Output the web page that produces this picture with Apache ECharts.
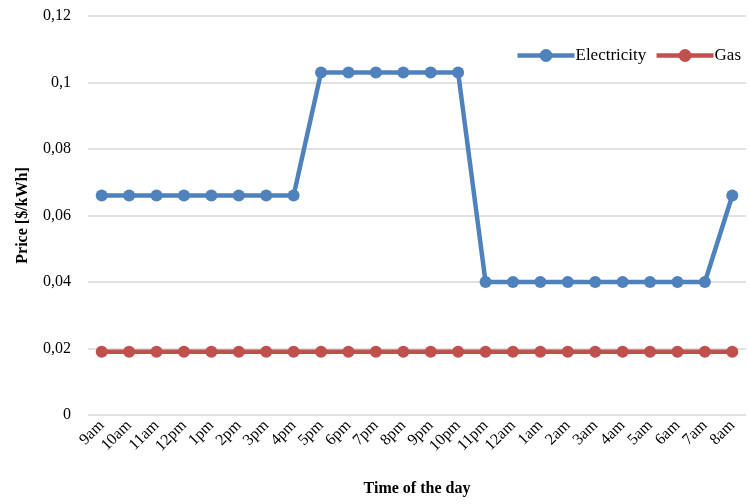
<!DOCTYPE html>
<html><head><meta charset="utf-8">
<script src="https://cdn.jsdelivr.net/npm/echarts@6/dist/echarts.min.js"></script>
<style>html,body{margin:0;padding:0;background:#fff}#c{width:749px;height:504px}</style>
</head><body><div id="c"></div>
<script>
const categories = ['9am','10am','11am','12pm','1pm','2pm','3pm','4pm','5pm','6pm','7pm','8pm','9pm','10pm','11pm','12am','1am','2am','3am','4am','5am','6am','7am','8am'];
const electricity = [0.066,0.066,0.066,0.066,0.066,0.066,0.066,0.066,0.103,0.103,0.103,0.103,0.103,0.103,0.04,0.04,0.04,0.04,0.04,0.04,0.04,0.04,0.04,0.066];
const gas = [0.019,0.019,0.019,0.019,0.019,0.019,0.019,0.019,0.019,0.019,0.019,0.019,0.019,0.019,0.019,0.019,0.019,0.019,0.019,0.019,0.019,0.019,0.019,0.019];
const yTicks = ['0','0,02','0,04','0,06','0,08','0,1','0,12'];

const font = 'Liberation Serif';
const chart = echarts.init(document.getElementById('c'));
chart.setOption({
  animation: false,
  textStyle: {fontFamily: font},
  grid: {left: 88, right: 3, top: 16, bottom: 89, containLabel: false},
  legend: {
    right: 3, top: 42, itemWidth: 57, itemHeight: 16, itemGap: 8,
    lineStyle: {width: 4.5},
    itemStyle: {borderWidth: 0},
    textStyle: {fontFamily: font, fontSize: 17, color: '#000', padding: [0, 0, 0, -4]},
    data: ['Electricity', 'Gas']
  },
  xAxis: {
    type: 'category', data: categories, boundaryGap: true,
    axisLine: {show: false}, axisTick: {show: false},
    axisLabel: {rotate: 45, fontFamily: font, fontSize: 16, color: '#000', interval: 0, margin: 8},
    name: 'Time of the day', nameLocation: 'middle', nameGap: 66,
    nameTextStyle: {fontFamily: font, fontSize: 16, fontWeight: 'bold', color: '#000'}
  },
  yAxis: {
    type: 'value', min: 0, max: 0.12, interval: 0.02,
    axisLine: {show: false}, axisTick: {show: false},
    splitLine: {lineStyle: {color: '#d9d9d9', width: 1.5}},
    axisLabel: {fontFamily: font, fontSize: 16, color: '#000', margin: 17,
      formatter: function (v) { return yTicks[Math.round(v / 0.02)]; }},
    name: 'Price [$/kWh]', nameLocation: 'middle', nameGap: 57, nameRotate: 90,
    nameTextStyle: {fontFamily: font, fontSize: 16, fontWeight: 'bold', color: '#000'}
  },
  series: [
    {name: 'Electricity', type: 'line', data: electricity, symbol: 'circle', symbolSize: 12,
     lineStyle: {width: 4.5, color: '#4F81BD'}, itemStyle: {color: '#4F81BD'}},
    {name: 'Gas', type: 'line', data: gas, symbol: 'circle', symbolSize: 12,
     lineStyle: {width: 4.5, color: '#C0504D'}, itemStyle: {color: '#C0504D'}}
  ]
});
</script></body></html>
